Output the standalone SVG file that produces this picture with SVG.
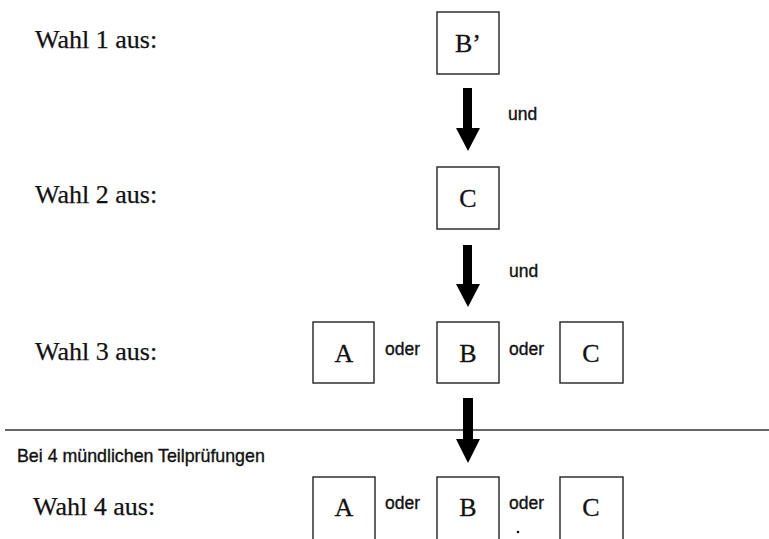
<svg xmlns="http://www.w3.org/2000/svg" width="769" height="539" viewBox="0 0 769 539">
<style>
.lbl{font-family:"Liberation Serif","Times New Roman",serif;font-size:26px;fill:#111;stroke:#111;stroke-width:0.25}
.box rect{fill:#fff;stroke:#222;stroke-width:1.4}
.box text{font-family:"Liberation Serif","Times New Roman",serif;font-size:26px;fill:#111;stroke:#111;stroke-width:0.3;text-anchor:middle}
.sm{font-family:"Liberation Sans",Arial,sans-serif;font-size:17.5px;fill:#111;stroke:#111;stroke-width:0.35}
.arr{fill:#000}
</style>
<rect width="769" height="539" fill="#fff"/>
<text class="lbl" x="35" y="48">Wahl 1 aus:</text>
<text class="lbl" x="35" y="203">Wahl 2 aus:</text>
<text class="lbl" x="35" y="360">Wahl 3 aus:</text>
<text class="lbl" x="33" y="515">Wahl 4 aus:</text>
<text class="sm" x="17" y="462" style="font-size:17.8px">Bei 4 mündlichen Teilprüfungen</text>
<line x1="5" y1="430" x2="769" y2="430" stroke="#333" stroke-width="1.3"/>
<g id="n1" class="box"><rect x="437" y="12" width="62" height="62"/><text x="468" y="52">B’</text></g>
<g id="n2" class="box"><rect x="437" y="167" width="62" height="62"/><text x="468" y="207">C</text></g>
<g id="n3a" class="box"><rect x="313" y="322" width="61" height="61"/><text x="344" y="362">A</text></g>
<g id="n3b" class="box"><rect x="437" y="322" width="62" height="61"/><text x="468" y="362">B</text></g>
<g id="n3c" class="box"><rect x="560" y="322" width="63" height="61"/><text x="591" y="362">C</text></g>
<g id="n4a" class="box"><rect x="313" y="477" width="62" height="70"/><text x="344" y="516">A</text></g>
<g id="n4b" class="box"><rect x="437" y="477" width="62" height="70"/><text x="468" y="516">B</text></g>
<g id="n4c" class="box"><rect x="560" y="477" width="63" height="70"/><text x="591" y="516">C</text></g>
<g id="connectors">
<polygon class="arr" points="463,88 472,88 472,128 480,128 468,151 456,128 463,128"/>
<polygon class="arr" points="463,245 472,245 472,284 480,284 468,307 456,284 463,284"/>
<polygon class="arr" points="463,398 473,398 473,439 480,439 468,463 456,439 463,439"/>
<text class="sm" x="508" y="120">und</text>
<text class="sm" x="509" y="277">und</text>
<text class="sm" x="385" y="355">oder</text>
<text class="sm" x="509" y="355">oder</text>
<text class="sm" x="385" y="509">oder</text>
<text class="sm" x="509" y="509">oder</text>
<circle cx="518" cy="532" r="1.3" fill="#111"/>
</g>
</svg>
